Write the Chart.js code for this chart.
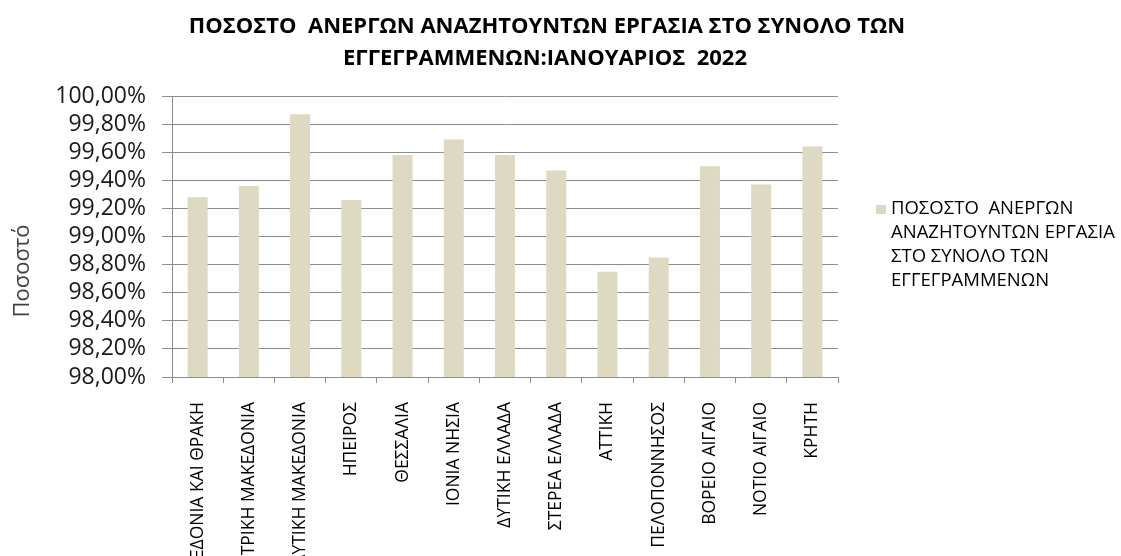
<!DOCTYPE html>
<html>
<head>
<meta charset="utf-8">
<script src="https://cdn.jsdelivr.net/npm/chart.js@4/dist/chart.umd.min.js"></script>
<style>
  html, body { margin: 0; padding: 0; background: #fff; }
  #wrap { width: 1121px; height: 556px; }
</style>
</head>
<body>
<div id="wrap"><canvas id="chart" width="1121" height="556"></canvas></div>
<script>
const regions = [
  'ΑΝΑΤΟΛΙΚΗ ΜΑΚΕΔΟΝΙΑ ΚΑΙ ΘΡΑΚΗ',
  'ΚΕΝΤΡΙΚΗ ΜΑΚΕΔΟΝΙΑ',
  'ΔΥΤΙΚΗ ΜΑΚΕΔΟΝΙΑ',
  'ΗΠΕΙΡΟΣ',
  'ΘΕΣΣΑΛΙΑ',
  'ΙΟΝΙΑ ΝΗΣΙΑ',
  'ΔΥΤΙΚΗ ΕΛΛΑΔΑ',
  'ΣΤΕΡΕΑ ΕΛΛΑΔΑ',
  'ΑΤΤΙΚΗ',
  'ΠΕΛΟΠΟΝΝΗΣΟΣ',
  'ΒΟΡΕΙΟ ΑΙΓΑΙΟ',
  'ΝΟΤΙΟ ΑΙΓΑΙΟ',
  'ΚΡΗΤΗ'
];
// % of unemployed seeking work among registered, Jan 2022
const rates = [99.28, 99.36, 99.87, 99.26, 99.58, 99.69, 99.58, 99.47, 98.75, 98.85, 99.50, 99.37, 99.64];

const yMin = 98;
const yMax = 100;
const yStep = 0.2;

const titleLines = [
  'ΠΟΣΟΣΤΟ  ΑΝΕΡΓΩΝ ΑΝΑΖΗΤΟΥΝΤΩΝ ΕΡΓΑΣΙΑ ΣΤΟ ΣΥΝΟΛΟ ΤΩΝ',
  'ΕΓΓΕΓΡΑΜΜΕΝΩΝ:ΙΑΝΟΥΑΡΙΟΣ  2022'
];
const seriesLabel = [
  'ΠΟΣΟΣΤΟ  ΑΝΕΡΓΩΝ',
  'ΑΝΑΖΗΤΟΥΝΤΩΝ ΕΡΓΑΣΙΑ',
  'ΣΤΟ ΣΥΝΟΛΟ ΤΩΝ',
  'ΕΓΓΕΓΡΑΜΜΕΝΩΝ'
];
const yTitle = 'Ποσοστό';

const barColor = '#DDD9C3';
const gridColor = '#8C8C8C';
const FONT = '"Open Sans", "Noto Sans", sans-serif';

// title, y-axis title and side legend drawn on the canvas
const decor = {
  id: 'decor',
  afterDraw(chart) {
    const ctx = chart.ctx;
    ctx.save();
    ctx.fillStyle = '#000';
    ctx.textAlign = 'center';
    ctx.textBaseline = 'middle';
    ctx.font = 'bold 22px ' + FONT;
    ctx.fillText(titleLines[0], 547, 27);
    ctx.fillText(titleLines[1], 545, 59);

    // axis title, a bit below the middle like the original
    ctx.save();
    ctx.translate(23, 271);
    ctx.rotate(-Math.PI / 2);
    ctx.fillStyle = '#404040';
    ctx.font = '22px ' + FONT;
    ctx.fillText(yTitle, 0, 0);
    ctx.restore();

    ctx.fillStyle = barColor;
    ctx.fillRect(876, 205, 10, 9);
    ctx.fillStyle = '#000';
    ctx.textAlign = 'left';
    ctx.font = '18.5px ' + FONT;
    seriesLabel.forEach((line, i) => {
      ctx.fillText(line, 891, 209 + i * 24);
    });
    ctx.restore();
  }
};

const ctx = document.getElementById('chart').getContext('2d');
const chart = new Chart(ctx, {
  type: 'bar',
  data: {
    labels: regions,
    datasets: [{
      label: seriesLabel.join(' '),
      data: rates,
      backgroundColor: barColor,
      barPercentage: 0.39,
      categoryPercentage: 1
    }]
  },
  options: {
    responsive: false,
    devicePixelRatio: 1,
    animation: false,
    layout: { padding: { top: 96, right: 283, bottom: 0, left: 0 } },
    plugins: {
      legend: { display: false },
      title: { display: false },
      tooltip: { enabled: false }
    },
    scales: {
      x: {
        afterFit: (scale) => { scale.height = 179; },
        grid: {
          offset: true,
          drawOnChartArea: false,
          drawTicks: true,
          tickLength: 6,
          color: gridColor
        },
        border: { display: true, color: gridColor },
        ticks: {
          autoSkip: false,
          minRotation: 90,
          maxRotation: 90,
          padding: 19,
          color: '#000',
          font: { family: FONT, size: 17.5 }
        }
      },
      y: {
        min: yMin,
        max: yMax,
        afterFit: (scale) => { scale.width = 172; },
        grid: {
          color: gridColor,
          drawTicks: true,
          tickLength: 10
        },
        border: { display: true, color: gridColor },
        ticks: {
          autoSkip: false,
          stepSize: yStep,
          padding: 16,
          color: '#1a1a1a',
          font: { family: FONT, size: 23 },
          callback: (v) => v.toFixed(2).replace('.', ',') + '%'
        }
      }
    }
  },
  plugins: [decor]
});
</script>
</body>
</html>
